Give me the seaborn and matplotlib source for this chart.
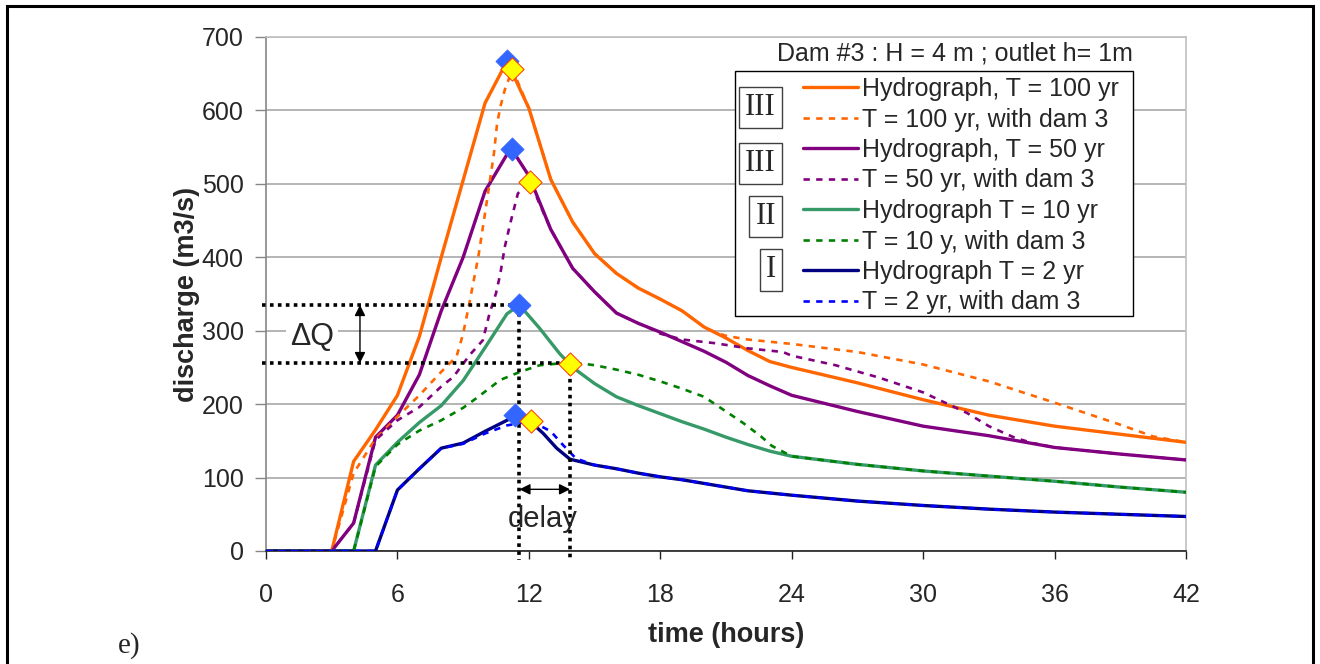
import matplotlib
matplotlib.use("Agg")
import matplotlib.pyplot as plt
from matplotlib.patches import Rectangle
import seaborn as sns
import pandas as pd

# ---------------- data ----------------
t100 = [0, 3, 4, 5, 6, 7, 8, 9, 10, 11, 12, 13, 14, 15, 16, 17, 18, 19, 20, 21, 22, 23, 24, 27, 30, 33, 36, 39, 42]
q100 = [0, 0, 122, 165, 212, 292, 400, 505, 610, 667, 603, 506, 448, 405, 378, 358, 343, 327, 305, 290, 273, 258, 250, 229, 206, 185, 170, 159, 148]

t100d = [0, 3, 4, 5, 6, 7, 8, 8.7, 9.0, 9.3, 9.7, 10.0, 10.4, 10.55, 10.7, 10.9, 11.25, 12, 13, 14, 15, 16, 17, 18, 19, 20, 20.5, 21, 22, 24, 27, 30, 33, 36, 39, 40.5, 42]
q100d = [0, 0, 106, 153, 183, 212, 244, 265, 296, 340, 402, 460, 540, 582, 605, 628, 656, 603, 506, 448, 405, 378, 358, 343, 327, 305, 298, 293, 288, 282, 271, 254, 231, 202, 172, 156, 148]

t50 = [0, 3, 4, 5, 6, 7, 8, 9, 10, 11, 11.22, 12, 13, 14, 15, 16, 17, 18, 19, 20, 21, 22, 23, 24, 27, 30, 33, 36, 39, 42]
q50 = [0, 0, 38, 155, 185, 240, 327, 400, 490, 540, 547, 511, 438, 385, 353, 324, 310, 298, 285, 272, 257, 239, 225, 212, 190, 170, 157, 141, 132, 124]

t50d = [0, 3, 4, 5, 6, 7, 8, 8.55, 9.3, 9.9, 10.2, 10.5, 10.7, 10.9, 11.15, 11.5, 12.05, 13, 14, 15, 16, 17, 17.7, 18, 19, 20.5, 22, 23.6, 24, 26, 28, 30, 32, 33, 34.2, 35, 36, 39, 42]
q50d = [0, 0, 38, 151, 178, 196, 224, 237, 267, 287, 323, 351, 378, 414, 446, 487, 503, 438, 385, 353, 324, 310, 301, 296, 288, 283, 276, 271, 266, 253, 236, 216, 188, 170, 154, 147, 141, 132, 124]

t10 = [0, 4, 5, 6, 7, 8, 9, 10, 11, 11.57, 12.5, 13.4, 14, 15, 16, 17, 18, 19, 20, 21, 22, 23, 24, 27, 30, 33, 36, 39, 42]
q10 = [0, 0, 117, 148, 175, 198, 232, 277, 323, 335, 303, 269, 250, 228, 210, 198, 187, 176, 166, 155, 145, 136, 129, 118, 109, 102, 95, 87, 80]

t10d = [0, 4, 5, 6, 7, 8, 9, 9.6, 10.7, 11.6, 12.5, 13.6, 14.5, 15, 16, 17, 18, 19, 20, 20.9, 21.8, 22.6, 23.1, 24, 27, 30, 33, 36, 39, 42]
q10d = [0, 0, 115, 145, 164, 178, 195, 208, 233, 244, 253, 256, 255, 253, 247, 240, 231, 221, 210, 192, 174, 156, 143, 129, 118, 109, 102, 95, 87, 80]

t2 = [0, 5, 6, 7, 8, 9, 10, 11, 11.37, 12, 12.66, 13.27, 13.88, 15, 16, 17, 18, 19, 20, 21, 22, 23, 24, 27, 30, 33, 36, 39, 42]
q2 = [0, 0, 83, 112, 140, 147, 163, 178, 185, 178, 160, 140, 125, 117, 112, 106, 101, 97, 92, 87, 82, 79, 76, 68, 62, 57, 53, 50, 47]

t2d = [0, 5, 6, 7, 8, 9, 10, 11, 12.1, 13, 13.57, 14.15, 15, 16, 17, 18, 19, 20, 21, 22, 23, 24, 27, 30, 33, 36, 39, 42]
q2d = [0, 0, 83, 112, 140, 146, 160, 171, 177, 163, 144, 126, 117, 112, 106, 101, 97, 92, 87, 82, 79, 76, 68, 62, 57, 53, 50, 47]

peak_t = [11.0, 11.22, 11.57, 11.37]
peak_q = [667, 547, 335, 185]
dam_peak_t = [11.25, 12.05, 13.88, 12.1]
dam_peak_q = [656, 503, 255, 177]

series_labels = ["Hydrograph, T = 100 yr", "T = 100 yr, with dam 3",
                 "Hydrograph, T = 50 yr", "T = 50 yr, with dam 3",
                 "Hydrograph T = 10 yr", "T = 10 y, with dam 3",
                 "Hydrograph T = 2 yr", "T = 2 yr, with dam 3"]
roman_labels = ["III", "III", "II", "I"]
x_ticks = [0, 6, 12, 18, 24, 30, 36, 42]
y_ticks = [0, 100, 200, 300, 400, 500, 600, 700]

dq_high, dq_low = 335, 256
t_peak, t_delayed = 11.57, 13.88

# ---------------- style ----------------
sns.set_style("white")
plt.rcParams['font.family'] = ['Liberation Sans', 'DejaVu Sans']

W, H = 1320, 664
fig = plt.figure(figsize=(W / 100, H / 100), dpi=100)
ax = fig.add_axes([266 / W, 113 / H, 920 / W, 514 / H])

series = [(t100, q100), (t100d, q100d), (t50, q50), (t50d, q50d),
          (t10, q10), (t10d, q10d), (t2, q2), (t2d, q2d)]
colors = ["#FF6600", "#FF6600", "#800080", "#800080",
          "#359A68", "#008000", "#000080", "#0000FF"]
solid = [True, False, True, False, True, False, True, False]

handles = []
for (tt, qq), lab, col, s in zip(series, series_labels, colors, solid):
    df = pd.DataFrame({"t": tt, "q": qq})
    if s:
        sns.lineplot(data=df, x="t", y="q", ax=ax, color=col, lw=2.4,
                     estimator=None, sort=False, legend=False, zorder=3)
    else:
        sns.lineplot(data=df, x="t", y="q", ax=ax, color=col, lw=1.9,
                     linestyle=(0, (2.4, 2.4)), estimator=None, sort=False,
                     legend=False, zorder=3.5)
    handles.append(ax.lines[-1])

# peak markers
sns.scatterplot(x=peak_t, y=peak_q, ax=ax, marker="D", s=140, color="#3366FF",
                edgecolor="#3366FF", linewidth=0.5, zorder=6, legend=False)
sns.scatterplot(x=dam_peak_t, y=dam_peak_q, ax=ax, marker="D", s=140, color="#FFFF00",
                edgecolor="#FF3300", linewidth=0.7, zorder=6, legend=False)

# annotations: dotted guide lines
dot = dict(color="black", lw=2.6, linestyle=(0, (1, 1.2)), zorder=4, clip_on=False)
ax.plot([-0.2, t_peak], [dq_high, dq_high], **dot)
ax.plot([-0.2, t_delayed], [dq_low, dq_low], **dot)
ax.plot([t_peak, t_peak], [dq_high, -12], **dot)
ax.plot([t_delayed, t_delayed], [dq_low, -12], **dot)

arrow = dict(arrowstyle="<|-|>", color="black", lw=1, mutation_scale=16,
             shrinkA=0, shrinkB=0)
ax.annotate("", xy=(4.29, dq_low), xytext=(4.29, dq_high), arrowprops=arrow, zorder=5)
ax.annotate("", xy=(t_peak, 84), xytext=(t_delayed, 84), arrowprops=arrow, zorder=5)
ax.text(2.1, 291, "\u0394Q", fontsize=22, ha="center", va="center", zorder=5,
        bbox=dict(facecolor="white", edgecolor="none", pad=3))
ax.text(12.65, 44, "delay", fontsize=21, ha="center", va="center", zorder=5)

# axes formatting
ax.set_xlim(0, 42)
ax.set_ylim(0, 700)
ax.set_xticks(x_ticks)
ax.set_yticks(y_ticks)
ax.set_xticklabels([str(v) for v in x_ticks])
ax.set_yticklabels([str(v) for v in y_ticks])
ax.yaxis.grid(True, color="#A8A8A8", lw=1.2)
ax.xaxis.grid(False)
ax.set_axisbelow(True)
for side, c in [("left", "#868686"), ("bottom", "#202020"), ("top", "#C0C0C0"), ("right", "#C0C0C0")]:
    ax.spines[side].set_visible(True)
    ax.spines[side].set_color(c)
    ax.spines[side].set_linewidth(1.2)
ax.tick_params(axis="x", direction="out", length=6, width=1, color="#202020",
               pad=17, labelsize=18, bottom=True)
ax.tick_params(axis="y", direction="out", length=8, width=1, color="#868686",
               pad=8, labelsize=18, left=True)
ax.set_xlabel("time (hours)", fontsize=19.5, fontweight="bold")
ax.set_ylabel("discharge (m3/s)", fontsize=19.5, fontweight="bold")
ax.xaxis.set_label_coords(0.5, (551 - 622) / 514)
ax.yaxis.set_label_coords((200 - 266) / 920, 0.5)

# legend frame + legend
ax.add_patch(Rectangle(((735 - 266) / 920, (551 - 316) / 514), (1133 - 735) / 920,
                       (316 - 71) / 514, transform=ax.transAxes, facecolor="white",
                       edgecolor="black", lw=1.0, zorder=7, clip_on=False))
leg = ax.legend(handles, series_labels, loc="upper left",
                bbox_to_anchor=((803 - 266) / 920, (551 - 77) / 514),
                bbox_transform=ax.transAxes, frameon=False, fontsize=18,
                handlelength=2.2, handletextpad=0.16, labelspacing=0.26,
                borderpad=0, borderaxespad=0)
leg.set_zorder(8)
ax.text((1133 - 266) / 920, (551 - 53) / 514, "Dam #3 : H = 4 m ; outlet h= 1m",
        transform=ax.transAxes, ha="right", va="center", fontsize=18, zorder=8)

# roman numeral boxes
roman_pos = [(782, 107.5), (782, 163.5), (782, 216.5), (782, 270)]
for lab, (px, py) in zip(roman_labels, roman_pos):
    fig.text((px - 6) / W, 1 - py / H, lab, family=["Liberation Serif", "DejaVu Serif"],
             fontsize=22, ha="right", va="center", zorder=9,
             bbox=dict(boxstyle="square,pad=0.2", facecolor="white",
                       edgecolor="#404040", lw=1.0))

# figure frame and panel label
fig.add_artist(Rectangle((7 / W, -0.02), (1313 - 7) / W, 1.02 - 6 / H,
                         transform=fig.transFigure, fill=False,
                         edgecolor="black", lw=2.2))
fig.text(129 / W, 1 - 646 / H, "e)", family=["Liberation Serif", "DejaVu Serif"],
         fontsize=21, ha="center", va="center")

fig.savefig("out.png", dpi=100)
